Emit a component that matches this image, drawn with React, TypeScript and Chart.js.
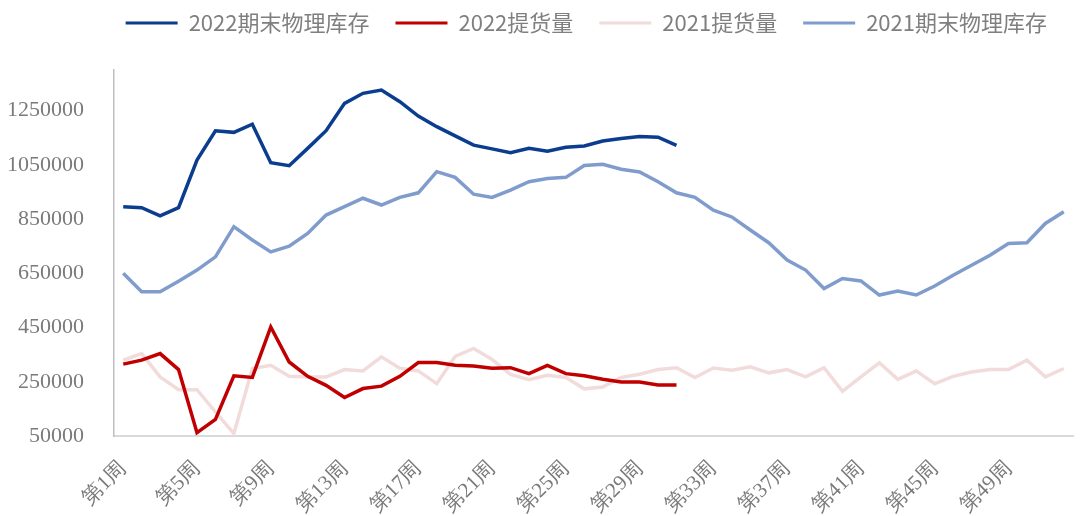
import React, { useEffect, useRef } from "react";
import { Chart, registerables } from "chart.js";

Chart.register(...registerables);

const weeks: string[] = Array.from({ length: 52 }, (_, i) => `第${i + 1}周`);

const stock2022 = [
  896000, 892000, 862000, 892000, 1068000, 1176000, 1170000, 1200000, 1058000, 1047000,
  1111000, 1176000, 1277000, 1314000, 1326000, 1283000, 1230000, 1191000, 1157000, 1123000,
  1109000, 1095000, 1111000, 1100000, 1115000, 1120000, 1138000, 1147000, 1155000, 1152000,
  1122000,
];

const pickup2022 = [
  315000, 330000, 354000, 295000, 62000, 111000, 272000, 266000, 452000, 323000,
  270000, 237000, 192000, 225000, 234000, 270000, 321000, 321000, 311000, 308000,
  300000, 302000, 280000, 310000, 280000, 272000, 259000, 249000, 249000, 238000,
  238000,
];

const pickup2021 = [
  330000, 354000, 268000, 221000, 221000, 139000, 59000, 299000, 311000, 270000,
  268000, 268000, 295000, 290000, 342000, 300000, 290000, 243000, 344000, 373000,
  332000, 277000, 258000, 274000, 266000, 224000, 231000, 266000, 278000, 295000,
  302000, 266000, 301000, 293000, 305000, 283000, 295000, 268000, 302000, 215000,
  268000, 320000, 259000, 290000, 243000, 270000, 286000, 295000, 295000, 330000,
  268000, 299000,
];

const stock2021 = [
  650000, 582000, 582000, 621000, 662000, 711000, 822000, 773000, 729000, 750000,
  797000, 865000, 896000, 927000, 902000, 930000, 947000, 1025000, 1004000, 942000,
  930000, 957000, 988000, 1000000, 1004000, 1048000, 1052000, 1034000, 1024000, 988000,
  947000, 930000, 883000, 858000, 810000, 763000, 699000, 662000, 594000, 631000,
  622000, 570000, 585000, 570000, 603000, 643000, 680000, 717000, 760000, 763000,
  834000, 877000,
];

const yTicks = [50000, 250000, 450000, 650000, 850000, 1050000, 1250000];

const seriesNames = ["2022期末物理库存", "2022提货量", "2021提货量", "2021期末物理库存"];

const legendSpacer = {
  id: "legendSpacer",
  afterInit(chart: any) {
    const lg = chart.legend;
    if (!lg || lg.__patched) return;
    const orig = lg.fit.bind(lg);
    lg.fit = function () {
      orig();
      this.height = 84;
    };
    lg.__patched = true;
  },
};

export default function App() {
  const ref = useRef<HTMLCanvasElement>(null);

  useEffect(() => {
    document.body.style.margin = "0";
    const baseGen = Chart.defaults.plugins.legend.labels.generateLabels;
    const tickFont = { family: "'Liberation Serif', 'Times New Roman', serif", size: 22 };
    const mk = (label: string, data: number[], color: string, width: number) => ({
      label,
      data,
      borderColor: color,
      backgroundColor: color,
      borderWidth: width,
      pointRadius: 0,
      pointHoverRadius: 0,
      tension: 0,
    });
    const chart = new Chart(ref.current as HTMLCanvasElement, {
      type: "line",
      data: {
        labels: weeks,
        datasets: [
          mk(seriesNames[0], stock2022, "#0b3d8f", 3.5),
          mk(seriesNames[1], pickup2022, "#c00000", 3.5),
          mk(seriesNames[2], pickup2021, "#f2dcdb", 3.5),
          mk(seriesNames[3], stock2021, "#7f9ccc", 3.5),
        ],
      },
      plugins: [legendSpacer],
      options: {
        animation: false,
        responsive: false,
        maintainAspectRatio: false,
        layout: { padding: { left: 0, right: 7, top: -14, bottom: 0 } },
        plugins: {
          tooltip: { enabled: false },
          legend: {
            position: "top",
            align: "end",
            labels: {
              boxWidth: 52,
              boxHeight: 3,
              padding: 26,
              color: "#7f7f7f",
              font: { family: "'Noto Sans CJK SC', 'Noto Sans', sans-serif", size: 22 },
              generateLabels: (c: any) =>
                baseGen(c).map((it: any) => ({ ...it, lineWidth: 0, fillStyle: it.strokeStyle })),
            },
          },
        },
        scales: {
          x: {
            offset: true,
            grid: { display: false },
            border: { display: true, color: "#d9d9d9", width: 2 },
            ticks: {
              autoSkip: false,
              minRotation: 45,
              maxRotation: 45,
              padding: 12,
              color: "#7a7a7a",
              font: { family: "'Liberation Serif', 'Times New Roman', serif", size: 21 },
              callback: (_v: any, i: number) => (i % 4 === 0 ? weeks[i] : ""),
            },
            afterFit: (s: any) => {
              s.height = 80;
              s.paddingRight = 0;
              s.paddingLeft = 0;
            },
          },
          y: {
            min: 50000,
            max: 1400000,
            grid: { display: false },
            border: { display: true, color: "#bfbfbf", width: 1.5 },
            afterBuildTicks: (s: any) => {
              s.ticks = yTicks.map((v) => ({ value: v }));
            },
            ticks: {
              padding: 22,
              color: "#7a7a7a",
              font: tickFont,
              callback: (v: any) => String(v),
            },
            afterFit: (s: any) => {
              s.width = 114;
            },
          },
        },
      },
    });
    return () => chart.destroy();
  }, []);

  return (
    <div style={{ width: 1080, height: 516, position: "relative" }}>
      <canvas ref={ref} width={1080} height={516} style={{ display: "block" }} />
    </div>
  );
}
